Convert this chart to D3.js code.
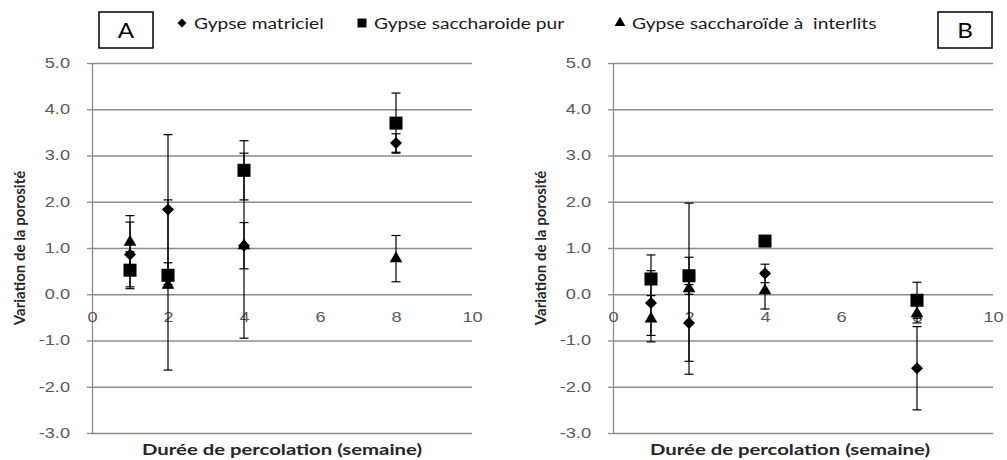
<!DOCTYPE html>
<html>
<head>
<meta charset="utf-8">
<script src="https://cdn.jsdelivr.net/npm/d3@7"></script>
<style>
  body { margin: 0; background: #fff; }
  svg { font-family: Lato, "Open Sans", sans-serif; }
</style>
</head>
<body>
<svg id="chart" width="1007" height="460"></svg>
<script>
// weeks of percolation
const weeks = [1, 2, 4, 8];
const xTicks = [0, 2, 4, 6, 8, 10];
const yTicks = [5, 4, 3, 2, 1, 0, -1, -2, -3];
const seriesNames = ['Gypse matriciel', 'Gypse saccharoide pur', 'Gypse saccharoïde à  interlits'];

// panel A
const aMatriciel = [0.86, 1.83, 1.05, 3.27];
const aMatricielErr = [0.70, 1.62, 0.50, 0.20];
const aPur = [0.52, 0.41, 2.68, 3.70];
const aPurErr = [0.40, 0.27, 0.64, 0.65];
const aInterlits = [1.13, 0.20, 1.05, 0.77];
const aInterlitsErr = [0.57, 1.84, 2.00, 0.50];

// panel B
const bMatriciel = [-0.19, -0.62, 0.45, -1.60];
const bMatricielErr = [0.70, 0.83, 0.20, 0.90];
const bPur = [0.33, 0.40, 1.15, -0.13];
const bPurErr = [0.52, 0.40, 0.10, 0.39];
const bInterlits = [-0.53, 0.12, 0.08, -0.42];
const bInterlitsErr = [0.50, 1.85, 0.40, 0.20];

const svg = d3.select('#chart');
const grey = '#8c8c8c';

const shapes = [
  { sym: d3.symbolSquare, size: 72, rot: 45 },   // diamond
  { sym: d3.symbolSquare, size: 170, rot: 0 },   // square
  { sym: d3.symbolTriangle, size: 70, rot: 0 }   // triangle
];

// the original text is a little wider than the fonts here
function stretchedText(parent, x, y, k) {
  return parent.append('text')
    .attr('transform', `translate(${x},${y}) scale(${k},1)`);
}

function drawPanel(left, label, boxX, titleX, series) {
  const x = d3.scaleLinear().domain([0, 10]).range([left, left + 380]);
  const y = d3.scaleLinear().domain([-3, 5]).range([433, 63]);
  const g = svg.append('g');

  // gridlines
  g.append('g')
    .attr('transform', `translate(${left},0)`)
    .call(d3.axisLeft(y).tickValues(yTicks).tickSize(-380).tickFormat(''))
    .call(s => s.select('.domain').remove())
    .call(s => s.selectAll('line').attr('stroke', grey).attr('stroke-width', 1.3));

  // y axis
  g.append('g')
    .attr('transform', `translate(${left},0)`)
    .call(d3.axisLeft(y).tickValues(yTicks).tickSize(5).tickSizeOuter(0).tickPadding(17).tickFormat(d => d.toFixed(1)))
    .call(s => s.select('.domain').attr('stroke', grey).attr('stroke-width', 1.3))
    .call(s => s.selectAll('line').attr('stroke', grey).attr('stroke-width', 1.3))
    .call(s => s.selectAll('text')
      .attr('x', 0)
      .attr('transform', 'translate(-22,0) scale(1.3,1)')
      .attr('fill', '#595959').attr('font-size', 14));

  // x labels, sitting under the zero line
  g.append('g')
    .attr('transform', `translate(0,${y(0)})`)
    .call(d3.axisBottom(x).tickValues(xTicks).tickSize(0).tickPadding(18))
    .call(s => s.select('.domain').remove())
    .call(s => s.selectAll('text')
      .attr('transform', 'scale(1.3,1)')
      .attr('fill', '#595959').attr('font-size', 14));

  // axis titles
  g.append('text')
    .attr('transform', `translate(${left - 72},${y(1)}) rotate(-90)`)
    .attr('text-anchor', 'middle')
    .attr('dy', '0.35em')
    .attr('font-size', 15)
    .attr('font-weight', 'bold')
    .attr('fill', '#262626')
    .text('Variation de la porosité');

  stretchedText(g, titleX, 455, 1.27)
    .attr('text-anchor', 'middle')
    .attr('font-size', 16)
    .attr('font-weight', 'bold')
    .attr('fill', '#262626')
    .text('Durée de percolation (semaine)');

  // panel letter box
  g.append('rect')
    .attr('x', boxX).attr('y', 12).attr('width', 54).attr('height', 36)
    .attr('fill', '#fff').attr('stroke', '#000').attr('stroke-width', 1.5);
  stretchedText(g, boxX + 27, 38, 1.15)
    .attr('text-anchor', 'middle')
    .attr('font-size', 21)
    .text(label);

  // error bars then markers
  series.forEach(s => {
    const pts = weeks.map((w, j) => ({ w: w, v: s.values[j], e: s.errs[j] }));
    const eb = g.append('g').attr('stroke', '#000').attr('stroke-width', 1.2);
    eb.selectAll('line.v').data(pts).enter().append('line')
      .attr('x1', d => x(d.w)).attr('x2', d => x(d.w))
      .attr('y1', d => y(d.v + d.e)).attr('y2', d => y(d.v - d.e));
    [1, -1].forEach(sign => {
      eb.selectAll('line.c' + sign).data(pts).enter().append('line')
        .attr('x1', d => x(d.w) - 4.5).attr('x2', d => x(d.w) + 4.5)
        .attr('y1', d => y(d.v + sign * d.e)).attr('y2', d => y(d.v + sign * d.e));
    });
  });
  series.forEach((s, i) => {
    const sh = shapes[i];
    g.selectAll(null).data(weeks.map((w, j) => ({ w: w, v: s.values[j] }))).enter()
      .append('path')
      .attr('d', d3.symbol().type(sh.sym).size(sh.size))
      .attr('transform', d => `translate(${x(d.w)},${y(d.v)}) rotate(${sh.rot})`)
      .attr('fill', '#000');
  });
}

drawPanel(92, 'A', 99, 282, [
  { values: aMatriciel, errs: aMatricielErr },
  { values: aPur, errs: aPurErr },
  { values: aInterlits, errs: aInterlitsErr }
]);
drawPanel(613, 'B', 938, 790, [
  { values: bMatriciel, errs: bMatricielErr },
  { values: bPur, errs: bPurErr },
  { values: bInterlits, errs: bInterlitsErr }
]);

// legend
const legendX = [182, 362, 620];
const legendSizes = [40, 80, 50];
const legend = svg.append('g');
seriesNames.forEach((name, i) => {
  const sh = shapes[i];
  legend.append('path')
    .attr('d', d3.symbol().type(sh.sym).size(legendSizes[i]))
    .attr('transform', `translate(${legendX[i]},23) rotate(${sh.rot})`)
    .attr('fill', '#000');
  stretchedText(legend, legendX[i] + 12, 29, 1.2)
    .attr('font-size', 16)
    .attr('fill', '#1a1a1a')
    .style('white-space', 'pre')
    .text(name);
});
</script>
</body>
</html>
